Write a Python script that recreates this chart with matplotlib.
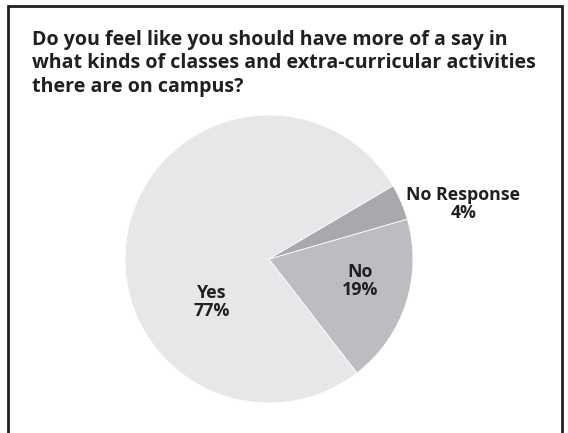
import matplotlib
matplotlib.use("Agg")
import matplotlib.pyplot as plt
from matplotlib.patches import Rectangle

# Survey responses
labels = ["Yes", "No", "No Response"]
percents = [77, 19, 4]
colors = ["#e6e7e8", "#bcbdc0", "#a7a9ac"]

question = ("Do you feel like you should have more of a say in\n"
            "what kinds of classes and extra-curricular activities\n"
            "there are on campus?")

plt.rcParams['font.family'] = ['Open Sans', 'DejaVu Sans']
ink = "#231f20"

W, H = 568, 433
fig = plt.figure(figsize=(W / 100, H / 100), dpi=100)
fig.patch.set_facecolor("white")

# frame around the whole graphic (runs off the bottom edge)
fig.patches.append(Rectangle((8 / W, -0.05), 554 / W, 1.05 - 6 / H,
                             transform=fig.transFigure, fill=False,
                             edgecolor=ink, linewidth=2))

fig.text(32 / W, 1 - 30 / H, question, ha="left", va="top", fontsize=14.1,
         fontweight="bold", color=ink, linespacing=1.22)

# pie: centre (269, 259) px, radius 144 px
cx, cy, r = 269, 259, 144
ax = fig.add_axes([(cx - r) / W, (H - cy - r) / H, 2 * r / W, 2 * r / H])
ax.pie(percents, colors=colors, startangle=30.5, counterclock=True,
       wedgeprops=dict(edgecolor="white", linewidth=0.6))
ax.set_xlim(-1, 1)
ax.set_ylim(-1, 1)
ax.set_aspect("equal")
ax.axis("off")

label_pos = [(-0.40, -0.30), (0.63, -0.15), (1.35, 0.38)]
for name, pct, (lx, ly) in zip(labels, percents, label_pos):
    ax.text(lx, ly, f"{name}\n{pct}%", ha="center", va="center",
            fontsize=12.8, fontweight="bold", color=ink, linespacing=1.0,
            clip_on=False)

fig.savefig("out.png", dpi=100)
